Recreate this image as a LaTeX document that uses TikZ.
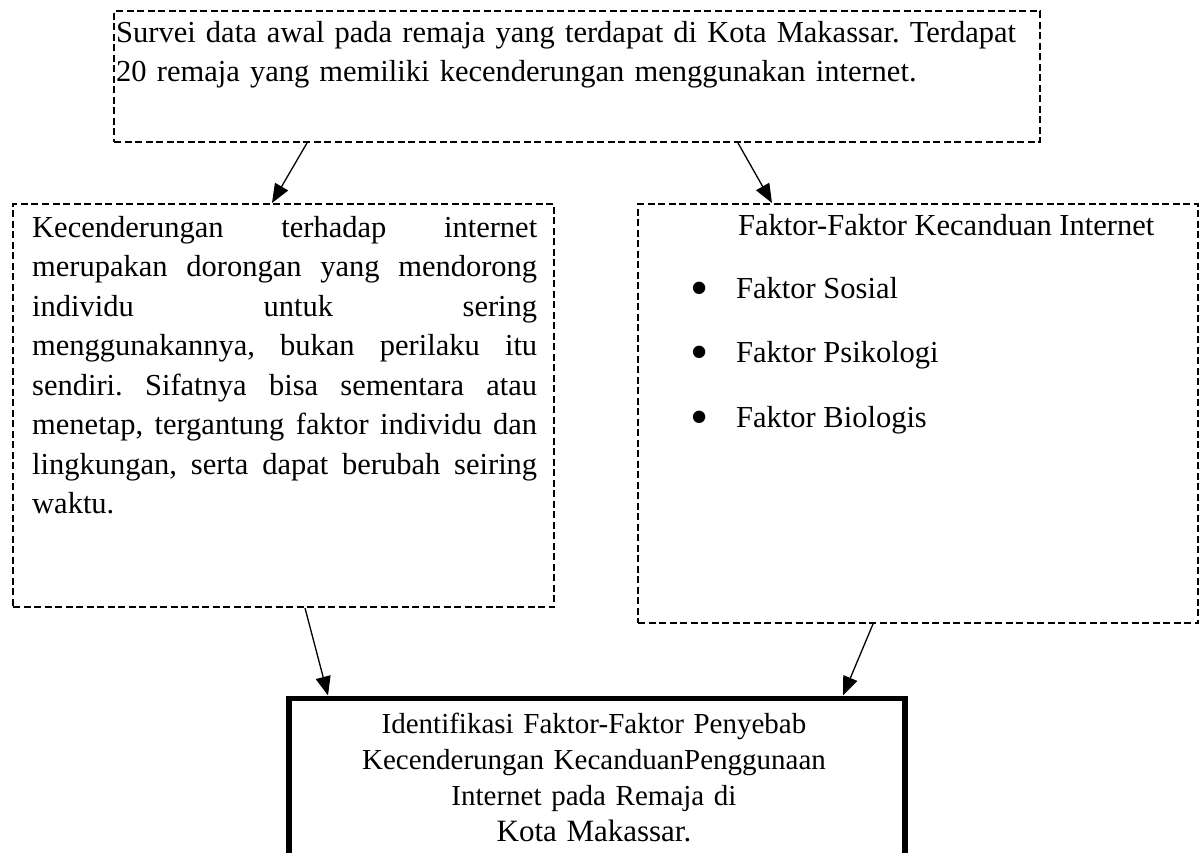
\documentclass[tikz,border=0pt]{standalone}
\usepackage{fontspec}
\setmainfont{Liberation Serif}
\usetikzlibrary{positioning,calc,arrows.meta}
\tikzset{
  figfont/.style={font=\fontsize{30.5}{39.5}\selectfont\frenchspacing},
  figbox/.style={draw, dash pattern=on 7pt off 3.5pt, line width=2pt, inner sep=0pt, anchor=north west},
  figboxstrong/.style={draw, line width=5.5pt, inner sep=0pt, anchor=north west},
  figtext/.style={anchor=base west, inner sep=0pt, align=left},
  figarrow/.style={-{Triangle[length=19pt, width=15pt]}, line width=1.3pt},
}
\newcommand{\figbullet}{\makebox[46pt][l]{\raisebox{-7pt}{\scalebox{1.7}{\textbullet}}}}
\newcommand{\figline}[1]{\makebox[505pt][s]{\spaceskip=0pt\xspaceskip=0pt\relax #1}}

\begin{document}
\begin{tikzpicture}[x=1pt,y=-1pt,figfont]
  \useasboundingbox (0,0) rectangle (1200,852);
  \clip (0,0) rectangle (1200,852);

  % Boxes
  \node[figbox, minimum width=926pt, minimum height=131pt] (survei) at (113,10) {};
  \node[figbox, minimum width=541pt, minimum height=403pt] (kecenderungan) at (12,203) {};
  \node[figbox, minimum width=560pt, minimum height=419pt] (faktor) at (637,203) {};
  \node[figboxstrong, minimum width=616pt, minimum height=230pt] (identifikasi) at (286,695.5) {};

  % Top: initial survey
  \node[figtext, text width=920pt] (surveiText) at (116,42)
  {Survei data awal pada remaja yang terdapat di Kota Makassar. Terdapat\\
   20 remaja yang memiliki kecenderungan menggunakan internet.};

  % Left: tendency description (justified lines)
  \node[figtext, text width=505pt] (kecenderunganText) at (32,237)
  {\figline{Kecenderungan terhadap internet}\\
   \figline{merupakan dorongan yang mendorong}\\
   \figline{individu untuk sering}\\
   \figline{menggunakannya, bukan perilaku itu}\\
   \figline{sendiri. Sifatnya bisa sementara atau}\\
   \figline{menetap, tergantung faktor individu dan}\\
   \figline{lingkungan, serta dapat berubah seiring}\\
   waktu.};

  % Right: addiction factors
  \node[figtext] (faktorTitle) at (738,235) {Faktor-Faktor Kecanduan Internet};
  \node[figtext] (faktorSosial) at (690,298) {\figbullet Faktor Sosial};
  \node[figtext] (faktorPsikologi) at (690,362) {\figbullet Faktor Psikologi};
  \node[figtext] (faktorBiologis) at (690,427) {\figbullet Faktor Biologis};

  % Bottom: goal
  \node[anchor=base, inner sep=0pt, text width=600pt, align=center, font=\fontsize{29}{36}\selectfont] (identifikasiText) at (594,733)
  {Identifikasi Faktor-Faktor Penyebab\\
   Kecenderungan KecanduanPenggunaan\\
   Internet pada Remaja di\\
   {\fontsize{31}{35}\selectfont Kota Makassar.}};

  % Connectors
  \draw[figarrow] ([xshift=194pt]survei.south west) -- ([xshift=260pt]kecenderungan.north west);
  \draw[figarrow] ([xshift=625pt]survei.south west) -- ([xshift=135pt]faktor.north west);
  \draw[figarrow] ([xshift=293pt]kecenderungan.south west) -- ([xshift=42pt]identifikasi.north west);
  \draw[figarrow] ([xshift=236pt]faktor.south west) -- ([xshift=557pt]identifikasi.north west);
\end{tikzpicture}
\end{document}
